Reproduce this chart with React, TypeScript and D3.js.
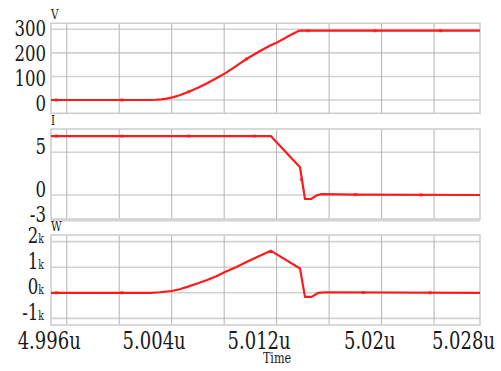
import React from "react";
import * as d3 from "d3";

// time axis (microseconds)
const xGrid = [4.996, 5.0, 5.004, 5.008, 5.012, 5.016, 5.02, 5.024];
const xLabelValues = [4.996, 5.004, 5.012, 5.02, 5.028];
const xLabels = ["4.996u", "5.004u", "5.012u", "5.02u", "5.028u"];

// V trace
const vTime = [4.9948, 5.0, 5.0024, 5.0028, 5.0032, 5.0036, 5.004, 5.0046, 5.0053, 5.006, 5.0067, 5.0074, 5.0081, 5.0089, 5.0097, 5.0106, 5.0115, 5.012, 5.0128, 5.0137, 5.0275];
const vValues = [0, 0, 0, 1, 3, 6, 10, 20, 35, 52, 71, 92, 114, 144, 174, 204, 231, 243, 268, 294, 294];
const vMarkTime = [4.9952, 5.0002, 5.0053, 5.0097, 5.0144, 5.0195, 5.0245];
const vMarkValue = [0, 0, 35, 174, 294, 294, 294];

// I trace
const iTime = [4.9948, 5.01155, 5.01378, 5.01416, 5.01462, 5.01505, 5.01543, 5.018, 5.0275];
const iValues = [6.9, 6.9, 3.25, -0.47, -0.47, -0.05, 0.1, 0.05, 0.0];
const iMarkTime = [4.9952, 5.0002, 5.0053, 5.0103, 5.0139, 5.018, 5.023];
const iMarkValue = [6.9, 6.9, 6.9, 6.9, 1.8, 0.05, 0.0];

// W trace (k)
const wTime = [4.9948, 5.0024, 5.0031, 5.004, 5.0046, 5.0053, 5.006, 5.0067, 5.0074, 5.0081, 5.0089, 5.0097, 5.0106, 5.01157, 5.01378, 5.01416, 5.01467, 5.01518, 5.0157, 5.0275];
const wValues = [0, 0, 0.02, 0.07, 0.14, 0.25, 0.37, 0.5, 0.65, 0.82, 1.0, 1.2, 1.42, 1.64, 0.95, -0.16, -0.16, 0.0, 0.02, 0.0];
const wMarkTime = [4.9952, 5.0002, 5.0186, 5.0237];
const wMarkValue = [0, 0, 0.01, 0.0];

const vTicks = [0, 100, 200, 300];
const iTicks = [-3, 0, 5];
const wTicks = [-1, 0, 1, 2];

const W = 501;
const H = 371;
const left = 51;
const right = 480;
const RED = "#ff1a1a";
const TXT = "#1a1a1a";
const FONT = "DejaVu Serif, serif";
const SX = 0.72;

const x = d3.scaleLinear().domain([4.9948, 5.0275]).range([left, right]);

const panels = [
  { name: "V", top: 23.3, bottom: 113.3, domain: [-56.4, 325.5] },
  { name: "I", top: 129, bottom: 219, domain: [-2.81, 7.73] },
  { name: "W", top: 235, bottom: 325, domain: [-1.26, 2.26] },
];

function Label({ x, y, text, size, anchor = "end", sx = SX, suffix }: any) {
  return (
    <text
      transform={`translate(${x},${y}) scale(${sx},1)`}
      textAnchor={anchor}
      style={{ fontFamily: FONT, fontSize: size }}
      fill={TXT}
    >
      {text}
      {suffix ? <tspan style={{ fontSize: size * 0.56 }}>{suffix}</tspan> : null}
    </text>
  );
}

function Panel({ p, ticks, times, values, mTimes, mValues, labelY, suffix }: any) {
  const y = d3.scaleLinear().domain(p.domain).range([p.bottom, p.top]);
  const line = d3
    .line<number>()
    .x((_, i) => x(times[i]))
    .y((d) => y(d));
  return (
    <g>
      {ticks.map((t: number) => (
        <line key={"h" + t} x1={left} x2={right} y1={y(t)} y2={y(t)} stroke="#d2d2d2" strokeWidth={1.6} />
      ))}
      {xGrid.map((t) => (
        <line key={"v" + t} x1={x(t)} x2={x(t)} y1={p.top} y2={p.bottom} stroke="#b4b4b4" strokeWidth={1} />
      ))}
      <rect x={left} y={p.top} width={right - left} height={p.bottom - p.top} fill="none" stroke="#cccccc" strokeWidth={1.5} />
      <path d={line(values) || ""} fill="none" stroke={RED} strokeWidth={2.2} strokeLinejoin="round" />
      {mTimes.map((t: number, i: number) => (
        <rect key={"m" + i} x={x(t) - 1.5} y={y(mValues[i]) - 1.5} width={3} height={3} fill={RED} opacity={0.8} />
      ))}
      {ticks.map((t: number) => (
        <Label key={"l" + t} x={suffix ? 44 : 46} y={labelY ? labelY(t) : y(t) + 1.5} text={String(t)} size={23} suffix={suffix} />
      ))}
      <Label x={left} y={p.top - 4.5} text={p.name} size={13} anchor="start" sx={0.8} />
    </g>
  );
}

export default function App() {
  const vLabelY = d3.scaleLinear().domain([0, 300]).range([110.5, 35.5]);
  return (
    <svg width={W} height={H} style={{ position: "absolute", left: 0, top: 0, background: "#fff" }}>
      <Panel p={panels[0]} ticks={vTicks} times={vTime} values={vValues} mTimes={vMarkTime} mValues={vMarkValue} labelY={vLabelY} />
      <Panel p={panels[1]} ticks={iTicks} times={iTime} values={iValues} mTimes={iMarkTime} mValues={iMarkValue} />
      <Panel p={panels[2]} ticks={wTicks} times={wTime} values={wValues} mTimes={wMarkTime} mValues={wMarkValue} suffix="k" />
      {xLabelValues.map((t, i) => (
        <Label key={t} x={Math.min(x(t) + 14, 495)} y={349} text={xLabels[i]} size={24} sx={0.75} />
      ))}
      <Label x={277} y={363} text="Time" size={14} anchor="middle" sx={0.8} />
    </svg>
  );
}
